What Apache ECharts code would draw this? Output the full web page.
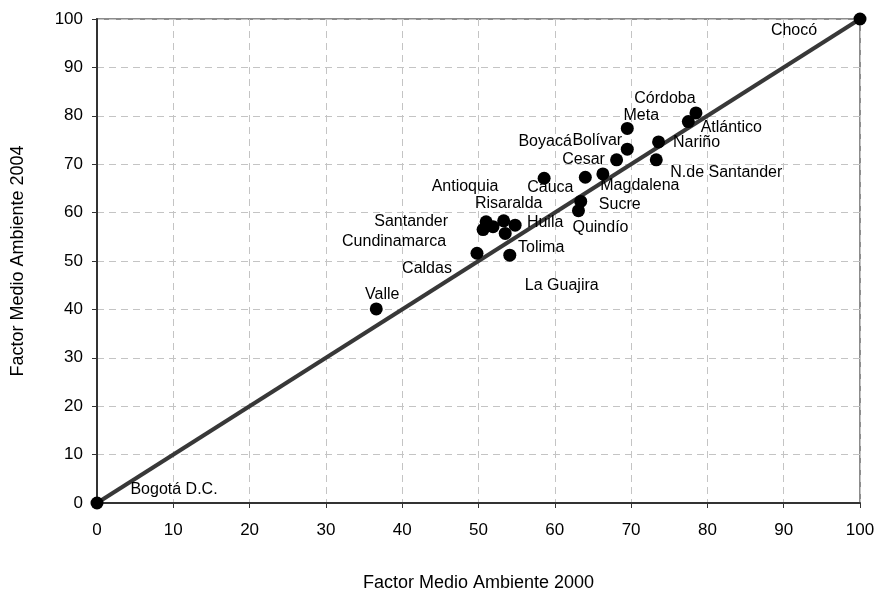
<!DOCTYPE html>
<html><head><meta charset="utf-8">
<script src="https://cdn.jsdelivr.net/npm/echarts@6/dist/echarts.min.js"></script>
<style>html,body{margin:0;padding:0;background:#fff}#c{width:874px;height:590px}</style>
</head><body><div id="c"></div>
<script>
var names = ["Bogotá D.C.","Chocó","Valle","Caldas","La Guajira","Santander","Cundinamarca","Antioquia","Risaralda","Huila","Tolima","Sucre","Quindío","Boyacá","Cauca","Magdalena","Cesar","Bolívar","Meta","Nariño","N.de Santander","Atlántico","Córdoba"];
var x2000 = [0,100,36.6,49.8,54.1,51.0,50.6,51.9,53.3,54.8,53.5,63.4,63.1,58.6,64.0,66.3,68.1,69.5,69.5,73.6,73.3,77.5,78.5];
var y2004 = [0,100,40.1,51.6,51.2,58.1,56.5,57.1,58.3,57.4,55.7,62.3,60.4,67.1,67.3,68.0,70.9,73.1,77.4,74.6,70.9,78.8,80.6];
var labelOffsets = [[77,-13],[-66,12],[6,-14],[-50,15],[52,30],[-75,0],[-89,12],[-28,-40],[5,-17],[30,-3],[36,14],[39,3],[22,17],[1,-37],[-35,10],[37,12],[-33,0],[-30,-9],[14,-13],[38,1],[70,13],[43,6],[-31,-14]];
var diagX = [0,100];
var diagY = [0,100];
var xTitle = "Factor Medio Ambiente 2000";
var yTitle = "Factor Medio Ambiente 2004";

var pts = names.map(function(n,i){ return {name:n, value:[x2000[i],y2004[i]]}; });
var font = "'Liberation Sans', Arial, sans-serif";
var chart = echarts.init(document.getElementById('c'));
chart.setOption({
  animation:false,
  grid:{left:97,right:14,top:19,bottom:87,show:true,borderColor:'#8c8c8c',borderWidth:2,containLabel:false,outerBoundsMode:'none'},
  xAxis:{type:'value',min:0,max:100,interval:10,
    name:xTitle,nameLocation:'middle',nameGap:71,
    nameTextStyle:{fontFamily:font,fontSize:18,color:'#000'},
    axisLine:{onZero:false,lineStyle:{color:'#333',width:2}},
    axisTick:{show:true,length:5,lineStyle:{color:'#333'}},
    axisLabel:{fontFamily:font,fontSize:17,color:'#000',margin:19},
    splitLine:{show:true,lineStyle:{type:[7,5],color:'#c4c4c4',width:1}}},
  yAxis:{type:'value',min:0,max:100,interval:10,
    name:yTitle,nameLocation:'middle',nameGap:70,
    nameTextStyle:{fontFamily:font,fontSize:18,color:'#000'},
    axisLine:{onZero:false,lineStyle:{color:'#333',width:2}},
    axisTick:{show:true,length:5,lineStyle:{color:'#333'}},
    axisLabel:{fontFamily:font,fontSize:17,color:'#000',margin:14},
    splitLine:{show:true,lineStyle:{type:[7,5],color:'#c4c4c4',width:1}}},
  series:[
    {type:'line',data:diagX.map(function(v,i){return [v,diagY[i]];}),
     symbol:'none',lineStyle:{color:'#383838',width:4},z:2,silent:true},
    {type:'scatter',data:pts,symbolSize:13,itemStyle:{color:'#000',opacity:1},z:3,
     label:{show:true,position:'inside',formatter:'{b}',fontFamily:font,fontSize:16,color:'#000'},
     labelLayout:function(p){var o=labelOffsets[p.dataIndex];return {dx:o[0],dy:o[1],hideOverlap:false};}}
  ]
});
</script></body></html>
